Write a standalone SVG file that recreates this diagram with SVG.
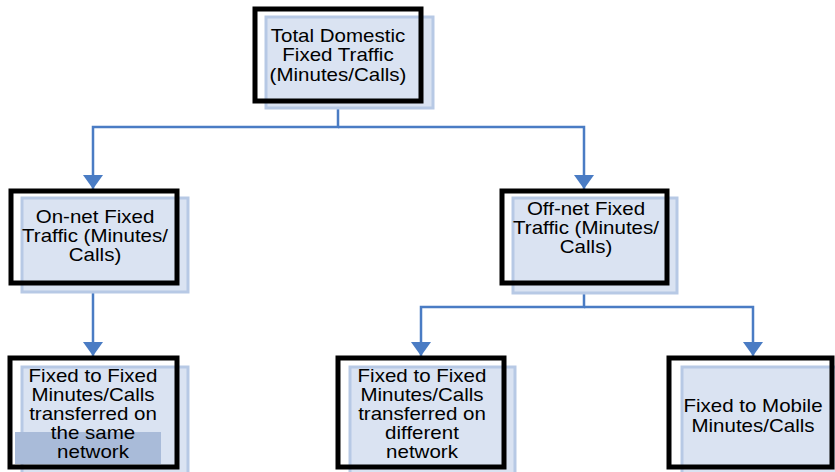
<svg xmlns="http://www.w3.org/2000/svg" width="835" height="472" viewBox="0 0 835 472">
<style>
.bg{fill:#dae3f2;stroke:#b7c9e5;stroke-width:3}
.fr{fill:none;stroke:#000;stroke-width:5}
.t{font-family:"Liberation Sans",Arial,sans-serif;font-size:18px;fill:#000;text-anchor:middle}
.c{fill:none;stroke:#4a7cc4;stroke-width:2.5;marker-end:url(#ah)}
</style>
<defs>
<marker id="ah" markerUnits="userSpaceOnUse" markerWidth="15" markerHeight="20" refX="14" refY="10" orient="auto" viewBox="0 0 15 20">
<path d="M0,0 L14,10 L0,20 z" fill="#4a7cc4"/>
</marker>
</defs>
<rect width="835" height="472" fill="#fff"/>
<g id="connectors">
<path class="c" d="M338,101 V127 H93 V189"/>
<path class="c" d="M338,127 H584 V189"/>
<path class="c" d="M93,284 V356"/>
<path class="c" d="M584,284 V307 H421 V356"/>
<path class="c" d="M584,307 H753 V356"/>
</g>
<g id="total">
<rect class="bg" x="266" y="17" width="167" height="91"/>
<rect class="fr" x="255" y="9" width="166" height="92"/>
<text class="t" transform="translate(338 0) scale(1.14 1)"><tspan x="0" y="42">Total Domestic</tspan><tspan x="0" y="61.5">Fixed Traffic</tspan><tspan x="0" y="81">(Minutes/Calls)</tspan></text>
</g>
<g id="onnet">
<rect class="bg" x="22" y="198" width="166" height="94"/>
<rect class="fr" x="11" y="191" width="166" height="92"/>
<text class="t" transform="translate(95 0) scale(1.14 1)"><tspan x="0" y="223">On-net Fixed</tspan><tspan x="0" y="242">Traffic (Minutes/</tspan><tspan x="0" y="261">Calls)</tspan></text>
</g>
<g id="offnet">
<rect class="bg" x="513" y="198" width="164" height="95"/>
<rect class="fr" x="502" y="191" width="165" height="92"/>
<text class="t" transform="translate(586 0) scale(1.14 1)"><tspan x="0" y="215">Off-net Fixed</tspan><tspan x="0" y="234">Traffic (Minutes/</tspan><tspan x="0" y="253">Calls)</tspan></text>
</g>
<g id="same">
<rect class="bg" x="22" y="367" width="166" height="110"/>
<rect x="15" y="432" width="146" height="32" fill="#a9bbd9"/>
<rect class="fr" x="10" y="358" width="167" height="109"/>
<text class="t" transform="translate(93 0) scale(1.14 1)"><tspan x="0" y="382">Fixed to Fixed</tspan><tspan x="0" y="401">Minutes/Calls</tspan><tspan x="0" y="420">transferred on</tspan><tspan x="0" y="439">the same</tspan><tspan x="0" y="458">network</tspan></text>
</g>
<g id="different">
<rect class="bg" x="350" y="367" width="165" height="110"/>
<rect class="fr" x="338" y="358" width="166" height="109"/>
<text class="t" transform="translate(422 0) scale(1.14 1)"><tspan x="0" y="382">Fixed to Fixed</tspan><tspan x="0" y="401">Minutes/Calls</tspan><tspan x="0" y="420">transferred on</tspan><tspan x="0" y="439">different</tspan><tspan x="0" y="458">network</tspan></text>
</g>
<g id="mobile">
<rect class="bg" x="682" y="367" width="160" height="110"/>
<rect class="fr" x="669" y="358" width="163" height="109"/>
<text class="t" transform="translate(753 0) scale(1.14 1)"><tspan x="0" y="412">Fixed to Mobile</tspan><tspan x="0" y="432">Minutes/Calls</tspan></text>
</g>
</svg>
